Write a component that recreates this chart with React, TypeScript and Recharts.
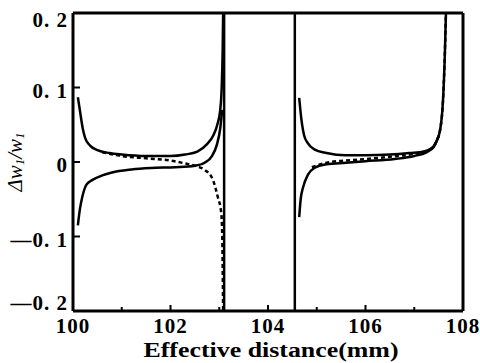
import { LineChart, Line, XAxis, YAxis, ReferenceLine } from "recharts";

type Pt = { x: number; y: number };

// x ticks (mm) and y ticks (relative change)
const xTicks = [100, 101, 102, 103, 104, 105, 106, 107, 108];
const xMajor = [100, 102, 104, 106, 108];
const yTicks = [-0.2, -0.1, 0, 0.1, 0.2];
const yTickLabels = ["\u20140. 2", "\u20140. 1", "0", "0. 1", "0. 2"];

// the two vertical asymptotes
const asymptotes = [103.1, 104.55];

// left branch
const leftUpper: Pt[] = [
  { x: 100.1, y: 0.087 }, { x: 100.14, y: 0.07 }, { x: 100.2, y: 0.045 },
  { x: 100.25, y: 0.032 }, { x: 100.35, y: 0.022 }, { x: 100.5, y: 0.016 },
  { x: 100.75, y: 0.012 }, { x: 101.0, y: 0.01 }, { x: 101.5, y: 0.008 },
  { x: 102.0, y: 0.008 }, { x: 102.3, y: 0.01 }, { x: 102.55, y: 0.014 },
  { x: 102.75, y: 0.024 }, { x: 102.88, y: 0.036 }, { x: 102.96, y: 0.05 },
  { x: 103.02, y: 0.07 }, { x: 103.05, y: 0.1 }, { x: 103.07, y: 0.15 },
  { x: 103.08, y: 0.2 },
];
const leftLower: Pt[] = [
  { x: 100.1, y: -0.085 }, { x: 100.14, y: -0.064 }, { x: 100.19, y: -0.047 },
  { x: 100.28, y: -0.03 }, { x: 100.4, y: -0.024 }, { x: 100.6, y: -0.018 },
  { x: 100.8, y: -0.014 }, { x: 101.2, y: -0.01 }, { x: 101.6, y: -0.008 },
  { x: 102.1, y: -0.007 }, { x: 102.5, y: -0.005 }, { x: 102.7, y: -0.001 },
  { x: 102.85, y: 0.008 }, { x: 102.95, y: 0.023 }, { x: 103.02, y: 0.045 },
  { x: 103.06, y: 0.07 },
];
const leftDashed: Pt[] = [
  { x: 100.6, y: 0.013 }, { x: 101.0, y: 0.008 }, { x: 101.5, y: 0.005 },
  { x: 102.0, y: 0.002 }, { x: 102.3, y: -0.002 }, { x: 102.55, y: -0.006 },
  { x: 102.71, y: -0.011 }, { x: 102.87, y: -0.024 }, { x: 102.97, y: -0.047 },
  { x: 103.04, y: -0.068 }, { x: 103.06, y: -0.095 }, { x: 103.07, y: -0.14 },
  { x: 103.08, y: -0.2 },
];

// right branch
const rightUpper: Pt[] = [
  { x: 104.64, y: 0.086 }, { x: 104.67, y: 0.066 }, { x: 104.7, y: 0.05 },
  { x: 104.74, y: 0.036 }, { x: 104.82, y: 0.025 }, { x: 104.95, y: 0.017 },
  { x: 105.2, y: 0.012 }, { x: 105.6, y: 0.009 }, { x: 106.0, y: 0.009 },
  { x: 106.5, y: 0.01 }, { x: 106.9, y: 0.012 }, { x: 107.2, y: 0.014 },
  { x: 107.35, y: 0.018 }, { x: 107.45, y: 0.027 }, { x: 107.53, y: 0.043 },
  { x: 107.59, y: 0.083 }, { x: 107.63, y: 0.15 }, { x: 107.65, y: 0.2 },
];
const rightLower: Pt[] = [
  { x: 104.64, y: -0.074 }, { x: 104.67, y: -0.05 }, { x: 104.72, y: -0.034 },
  { x: 104.82, y: -0.017 }, { x: 104.95, y: -0.008 }, { x: 105.2, y: -0.003 },
  { x: 105.6, y: -0.001 }, { x: 106.0, y: 0.001 }, { x: 106.6, y: 0.004 },
  { x: 107.0, y: 0.008 }, { x: 107.25, y: 0.013 }, { x: 107.4, y: 0.02 },
  { x: 107.5, y: 0.035 },
];
const rightDashed: Pt[] = [
  { x: 104.9, y: -0.007 }, { x: 105.2, y: -0.001 }, { x: 105.6, y: 0.002 },
  { x: 106.0, y: 0.004 }, { x: 106.5, y: 0.007 }, { x: 107.0, y: 0.011 },
  { x: 107.3, y: 0.016 }, { x: 107.45, y: 0.027 }, { x: 107.53, y: 0.043 },
  { x: 107.59, y: 0.083 }, { x: 107.63, y: 0.15 }, { x: 107.65, y: 0.2 },
];

const FONT = "'Liberation Serif', 'DejaVu Serif', serif";

const XTick = (props: any) => {
  const { x, y, payload } = props;
  const major = xMajor.includes(payload.value);
  return (
    <g>
      <line x1={x} x2={x} y1={y} y2={y - (major ? 6 : 4)} stroke="#000" strokeWidth={2} />
      {major && (
        <text x={x} y={y + 22} textAnchor="middle" fontFamily={FONT} fontWeight="bold" fontSize={21} letterSpacing={1} fill="#000">
          {payload.value}
        </text>
      )}
    </g>
  );
};

const YTick = (props: any) => {
  const { x, y, payload } = props;
  const v = payload.value;
  const label = yTickLabels[yTicks.indexOf(v)];
  // bottom label sits just above the x axis, top one just below the frame
  const dy = v === -0.2 ? -1 : v === 0.2 ? 14 : 10;
  return (
    <g>
      <line x1={x} x2={x + 7} y1={y} y2={y} stroke="#000" strokeWidth={2} />
      <text x={x - 5} y={y + dy} textAnchor="end" fontFamily={FONT} fontWeight="bold" fontSize={21} letterSpacing={1} fill="#000">
        {label}
      </text>
    </g>
  );
};

export default function App() {
  const solid = { stroke: "#000", strokeWidth: 2.5, dot: false, isAnimationActive: false, type: "monotone" as const, dataKey: "y" };
  return (
    <div style={{ position: "absolute", left: 0, top: 0, width: 480, height: 363, background: "#fff" }}>
      <LineChart width={480} height={363} margin={{ top: 13, right: 17, bottom: 0, left: 0 }}>
        <XAxis
          dataKey="x"
          type="number"
          domain={[100, 108]}
          ticks={xTicks}
          interval={0}
          height={52}
          tickSize={0}
          tickMargin={0}
          tickLine={false}
          axisLine={{ stroke: "#000", strokeWidth: 3 }}
          tick={<XTick />}
          allowDataOverflow
          label={() => (
            <text
              x={271}
              y={357}
              textAnchor="middle"
              fontFamily={FONT}
              fontWeight="bold"
              fontSize={20}
              textLength={255}
              lengthAdjust="spacingAndGlyphs"
              fill="#000"
            >
              Effective distance(mm)
            </text>
          )}
        />
        <YAxis
          type="number"
          domain={[-0.2, 0.2]}
          ticks={yTicks}
          interval={0}
          width={73}
          tickSize={0}
          tickMargin={0}
          tickLine={false}
          axisLine={{ stroke: "#000", strokeWidth: 3 }}
          tick={<YTick />}
          allowDataOverflow
          label={() => {
            const cx = 15;
            const cy = 162;
            return (
              <text
                x={cx}
                y={cy}
                transform={`rotate(-90 ${cx} ${cy})`}
                textAnchor="middle"
                dominantBaseline="central"
                fontFamily={FONT}
                fontStyle="italic"
                fontSize={21}
                fill="#000"
              >
                {"\u0394w"}
                <tspan fontSize={13} dy={4}>1</tspan>
                <tspan dy={-4}>/w</tspan>
                <tspan fontSize={13} dy={4}>1</tspan>
              </text>
            );
          }}
        />
        <ReferenceLine y={0.2} stroke="#000" strokeWidth={3} />
        <ReferenceLine x={108} stroke="#000" strokeWidth={3} />
        {asymptotes.map((a) => (
          <ReferenceLine key={a} x={a} stroke="#000" strokeWidth={2.5} />
        ))}
        <Line {...solid} data={leftUpper} />
        <Line {...solid} data={leftLower} />
        <Line {...solid} data={leftDashed} strokeDasharray="4 3" />
        <Line {...solid} data={rightUpper} />
        <Line {...solid} data={rightLower} />
        <Line {...solid} data={rightDashed} strokeDasharray="4 3" />
      </LineChart>
    </div>
  );
}
